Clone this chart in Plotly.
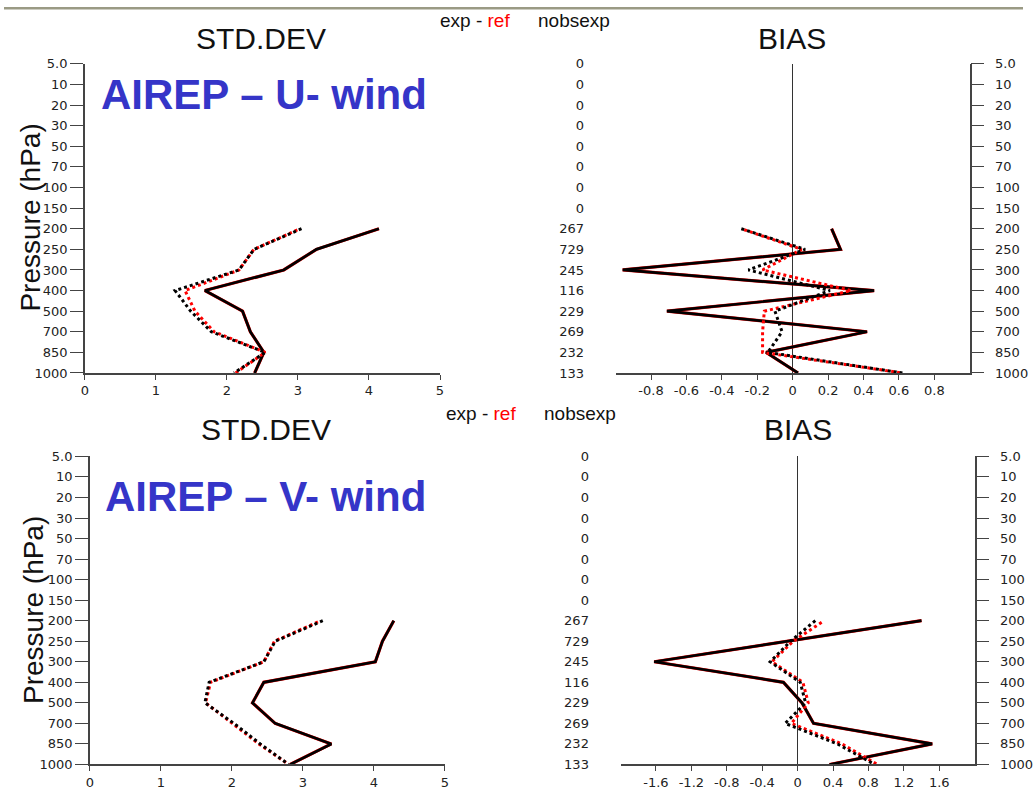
import plotly.graph_objects as go

W, H = 1033, 797

# ---------------- data ----------------
levels = ["5.0", "10", "20", "30", "50", "70", "100", "150", "200", "250",
          "300", "400", "500", "700", "850", "1000"]
nobs_labels = ["0", "0", "0", "0", "0", "0", "0", "0", "267", "729", "245",
               "116", "229", "269", "232", "133"]
data_levels = ["200", "250", "300", "400", "500", "700", "850", "1000"]

# U-wind standard deviation (exp black, ref red; solid and dotted profiles)
u_std_exp_solid = [4.14, 3.26, 2.80, 1.69, 2.22, 2.33, 2.52, 2.39]
u_std_ref_solid = [4.14, 3.26, 2.80, 1.69, 2.22, 2.33, 2.52, 2.39]
u_std_exp_dot = [3.05, 2.38, 2.17, 1.27, 1.49, 1.78, 2.54, 2.10]
u_std_ref_dot = [3.03, 2.38, 2.17, 1.41, 1.55, 1.82, 2.54, 2.12]

# U-wind bias
u_bias_exp_solid = [0.22, 0.27, -0.96, 0.46, -0.71, 0.42, -0.15, 0.03]
u_bias_ref_solid = [0.22, 0.27, -0.96, 0.46, -0.71, 0.42, -0.15, 0.03]
u_bias_exp_dot = [-0.29, 0.07, -0.25, 0.21, -0.10, -0.06, -0.14, 0.62]
u_bias_ref_dot = [-0.29, 0.05, -0.17, 0.33, -0.16, -0.17, -0.17, 0.62]

# V-wind standard deviation
v_std_exp_solid = [4.28, 4.12, 4.02, 2.45, 2.29, 2.61, 3.40, 2.82]
v_std_ref_solid = [4.28, 4.12, 4.02, 2.45, 2.29, 2.61, 3.40, 2.82]
v_std_exp_dot = [3.28, 2.61, 2.45, 1.68, 1.62, 2.03, 2.40, 2.80]
v_std_ref_dot = [3.25, 2.60, 2.45, 1.70, 1.63, 2.00, 2.38, 2.80]

# V-wind bias
v_bias_exp_solid = [1.40, -0.10, -1.62, -0.16, 0.05, 0.18, 1.52, 0.36]
v_bias_ref_solid = [1.40, -0.10, -1.62, -0.16, 0.05, 0.18, 1.52, 0.36]
v_bias_exp_dot = [0.20, -0.08, -0.31, 0.03, 0.09, -0.14, 0.45, 0.87]
v_bias_ref_dot = [0.30, -0.05, -0.29, 0.06, 0.12, -0.07, 0.50, 0.90]

std_ticks = [0, 1, 2, 3, 4, 5]
u_bias_ticks = [-0.8, -0.6, -0.4, -0.2, 0, 0.2, 0.4, 0.6, 0.8]
v_bias_ticks = [-1.6, -1.2, -0.8, -0.4, 0, 0.4, 0.8, 1.2, 1.6]

# ---------------- figure ----------------
ypos = [levels.index(l) for l in data_levels]
level_idx = list(range(len(levels)))

fig = go.Figure()

TICKFONT = dict(family="DejaVu Sans", size=13, color="#222222")
AXCOL = "#444444"


def xd(a, b):
    return [a / W, b / W]


def yd(top, bottom):
    return [1 - bottom / H, 1 - top / H]


def add_profile(xa, ya, es, rs, ed, rd):
    fig.add_trace(go.Scatter(x=rs, y=ypos, xaxis=xa, yaxis=ya, mode="lines",
                             line=dict(color="#ff0000", width=3.2), showlegend=False, hoverinfo="skip"))
    fig.add_trace(go.Scatter(x=es, y=ypos, xaxis=xa, yaxis=ya, mode="lines",
                             line=dict(color="#000000", width=2.7), showlegend=False, hoverinfo="skip"))
    fig.add_trace(go.Scatter(x=rd, y=ypos, xaxis=xa, yaxis=ya, mode="lines",
                             line=dict(color="#ff0000", width=3, dash="0px,3px,3px,0px"),
                             showlegend=False, hoverinfo="skip"))
    fig.add_trace(go.Scatter(x=ed, y=ypos, xaxis=xa, yaxis=ya, mode="lines",
                             line=dict(color="#000000", width=3, dash="3px,3px"),
                             showlegend=False, hoverinfo="skip"))


add_profile("x", "y", u_std_exp_solid, u_std_ref_solid, u_std_exp_dot, u_std_ref_dot)
add_profile("x2", "y2", u_bias_exp_solid, u_bias_ref_solid, u_bias_exp_dot, u_bias_ref_dot)
add_profile("x3", "y4", v_std_exp_solid, v_std_ref_solid, v_std_exp_dot, v_std_ref_dot)
add_profile("x4", "y5", v_bias_exp_solid, v_bias_ref_solid, v_bias_exp_dot, v_bias_ref_dot)

# empty traces so the right-hand pressure axes of the bias panels get drawn
fig.add_trace(go.Scatter(x=[None], y=[None], xaxis="x2", yaxis="y3", mode="lines",
                         showlegend=False, hoverinfo="skip"))
fig.add_trace(go.Scatter(x=[None], y=[None], xaxis="x4", yaxis="y6", mode="lines",
                         showlegend=False, hoverinfo="skip"))


def std_x(dom, anchor):
    return dict(domain=dom, anchor=anchor, range=[0, 5], tickmode="array", tickvals=std_ticks,
                ticktext=[str(t) for t in std_ticks], ticks="outside", ticklen=5, tickcolor=AXCOL,
                showline=True, linecolor=AXCOL, linewidth=1.5, showgrid=False, zeroline=False,
                tickfont=TICKFONT, fixedrange=True)


def std_y(dom, anchor):
    return dict(domain=dom, anchor=anchor, range=[15, 0], tickmode="array", tickvals=level_idx,
                ticktext=levels, ticks="outside", ticklen=13, tickcolor=AXCOL, showline=True,
                linecolor=AXCOL, linewidth=1.5, showgrid=False, zeroline=False, tickfont=TICKFONT,
                fixedrange=True)


def bias_x(dom, anchor, rng, tv):
    return dict(domain=dom, anchor=anchor, range=rng, tickmode="array", tickvals=tv,
                ticktext=[("0" if t == 0 else f"{t:g}") for t in tv], ticks="outside", ticklen=5,
                tickcolor=AXCOL, showline=True, linecolor=AXCOL, linewidth=1.5, showgrid=False,
                zeroline=True, zerolinecolor="#333333", zerolinewidth=1, tickfont=TICKFONT,
                fixedrange=True)


def bias_yleft(dom, anchor):
    return dict(domain=dom, anchor=anchor, range=[15, 0], tickmode="array", tickvals=level_idx,
                ticktext=nobs_labels, ticks="outside", ticklen=28, tickcolor="rgba(0,0,0,0)",
                showline=False, showgrid=False, zeroline=False, tickfont=TICKFONT, fixedrange=True)


def bias_yright(over, anchor):
    return dict(overlaying=over, anchor=anchor, side="right", range=[15, 0], tickmode="array",
                tickvals=level_idx, ticktext=levels, ticks="outside", ticklen=13, tickcolor=AXCOL,
                showline=True, linecolor=AXCOL, linewidth=1.5, showgrid=False, zeroline=False,
                tickfont=TICKFONT, ticklabelstandoff=8, fixedrange=True)


top_y = yd(58, 373)
bot_y = yd(458, 772)

fig.update_layout(
    width=W, height=H, margin=dict(l=0, r=0, t=0, b=0),
    paper_bgcolor="white", plot_bgcolor="white", showlegend=False,
    xaxis=std_x(xd(82, 442), "y"),
    yaxis=std_y(top_y, "x"),
    xaxis2=bias_x(xd(620, 979), "y2", [-1, 1], u_bias_ticks),
    yaxis2=bias_yleft(top_y, "x2"),
    yaxis3=bias_yright("y2", "x2"),
    xaxis3=std_x(xd(87, 447), "y4"),
    yaxis4=std_y(bot_y, "x3"),
    xaxis4=bias_x(xd(625, 984), "y5", [-2, 2], v_bias_ticks),
    yaxis5=bias_yleft(bot_y, "x4"),
    yaxis6=bias_yright("y5", "x4"),
)


def ann(text, x, y, size, color="#111111", xanchor="center", family="Liberation Sans", angle=0):
    fig.add_annotation(text=text, x=x / W, y=1 - y / H, xref="paper", yref="paper",
                       xanchor=xanchor, yanchor="middle", showarrow=False, textangle=angle,
                       font=dict(family=family, size=size, color=color))


# panel titles
ann("STD.DEV", 261, 32, 30)
ann("BIAS", 799, 32, 30)
ann("STD.DEV", 266, 431, 30)
ann("BIAS", 805, 431, 30)

# legend-like labels
ann('exp - <span style="color:#ff0000">ref</span>', 440, 14, 19, xanchor="left")
ann("nobsexp", 539, 14, 19, xanchor="left")
ann('exp - <span style="color:#ff0000">ref</span>', 446, 414, 19, xanchor="left")
ann("nobsexp", 545, 414, 19, xanchor="left")

# axis titles
ann("Pressure (hPa)", 27, 215, 28, angle=-90)
ann("Pressure (hPa)", 30, 615, 28, angle=-90)

# blue headings
ann("<b>AIREP – U- wind</b>", 264, 89, 42, color="#3535c8")
ann("<b>AIREP – V- wind</b>", 265, 499, 42, color="#3535c8")

# top slide border
fig.add_shape(type="rect", xref="paper", yref="paper", x0=0, x1=1, y0=1 - 2.5 / H, y1=1,
              fillcolor="#9a9a84", line=dict(width=0), layer="above")

fig.write_html("out.html")
